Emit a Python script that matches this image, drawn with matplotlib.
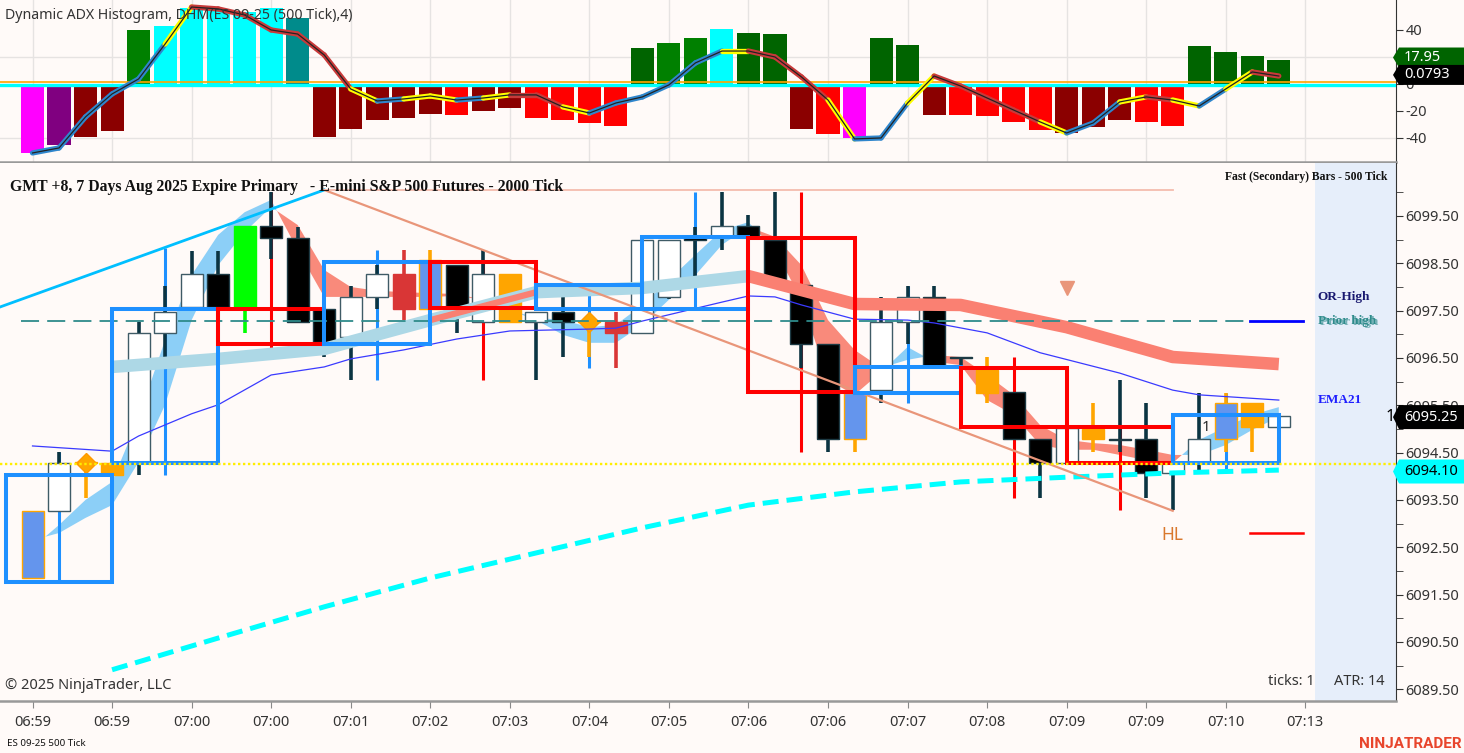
import matplotlib
matplotlib.use("Agg")
import matplotlib.pyplot as plt
import matplotlib.transforms as mtransforms
from matplotlib.patches import Rectangle, Polygon
import numpy as np

plt.rcParams["font.family"] = ["Noto Sans", "DejaVu Sans"]

# ---------------- ADX histogram panel (500 tick) ----------------
hist_vals = [-51, -45, -39, -35, 40, 43, 56, 55, 53, 56, 49, -39, -33, -27, -25, -22,
             -23, -20, -18, -25, -27, -29, -31, 27, 30, 34, 41, 38, 37, -33, -37, -40,
             34, 29, -23, -23, -24, -28, -34, -36, -32, -27, -28, -31, 28, 24, 21, 17.95]
hist_codes = ["M", "P", "DR", "DR", "G", "C", "C", "C", "C", "C", "T", "DR", "DR", "DR", "DR", "DR",
              "R", "DR", "DR", "R", "R", "R", "R", "DG", "G", "G", "C", "DG", "DG", "DR", "R", "M",
              "DG", "DG", "DR", "R", "R", "R", "R", "DR", "DR", "DR", "R", "R", "DG", "DG", "DG", "DG"]
adx_line = [-51.1, -47.4, -24.4, -7.4, 3.7, 29.6, 57.0, 55.6, 51.1, 40.0, 37.0, 21.5, -3.7, -12.6,
            -11.1, -8.9, -11.9, -10.4, -8.1, -8.1, -17.0, -21.5, -14.1, -9.6, -0.7, 15.6, 24.4,
            24.4, 20.0, 5.2, -11.9, -40.7, -40.0, -14.1, 5.9, -1.5, -10.4, -19.3, -28.1, -36.3,
            -28.9, -13.3, -9.6, -11.9, -16.3, -3.7, 8.9, 5.9]
adx_seg = "BBBBBYRRRRRRYBYYBYRRYBBBBBYRRRYBBYRRRRYBBYRYBYR"
hist_ticks = [40, 20, 0, -20, -40]
hist_tick_labels = ["40", "", "0", "-20", "-40"]

# ---------------- main price panel (500 tick candles) ----------------
c_open = [6091.85, 6093.27, 6094.28, 6094.28, 6094.28, 6097.03, 6097.58, 6098.27, 6097.58, 6099.29,
          6099.04, 6097.54, 6096.94, 6097.79, 6098.27, 6097.54, 6098.46, 6097.26, 6098.27, 6097.26,
          6097.47, 6097.26, 6097.26, 6097.03, 6097.79, 6099.06, 6099.06, 6099.29, 6098.99, 6098.04,
          6096.80, 6094.79, 6095.82, 6097.26, 6097.79, 6096.52, 6096.25, 6095.78, 6094.79, 6094.28,
          6095.00, 6094.79, 6094.79, 6094.07, 6094.30, 6094.79, 6095.55, 6095.04]
c_high = [6093.27, 6094.51, 6094.28, 6094.28, 6097.26, 6098.02, 6098.76, 6098.76, 6099.29, 6100.01,
          6099.27, 6097.54, 6098.02, 6098.46, 6098.78, 6098.78, 6098.46, 6098.78, 6098.27, 6097.47,
          6097.79, 6097.26, 6097.47, 6098.99, 6098.99, 6099.27, 6100.01, 6099.52, 6100.01, 6098.04,
          6096.80, 6095.76, 6097.79, 6098.02, 6098.02, 6096.52, 6096.52, 6095.78, 6094.79, 6095.55,
          6095.55, 6096.03, 6095.55, 6094.28, 6095.76, 6095.76, 6095.55, 6095.27]
c_low = [6091.85, 6093.27, 6093.54, 6093.54, 6094.03, 6096.52, 6097.58, 6097.58, 6097.03, 6098.60,
         6097.26, 6096.52, 6096.03, 6097.54, 6097.30, 6097.54, 6097.03, 6097.26, 6097.26, 6096.03,
         6096.52, 6096.52, 6096.29, 6097.03, 6097.75, 6098.21, 6098.78, 6099.06, 6098.13, 6096.29,
         6094.51, 6094.51, 6095.55, 6096.80, 6096.31, 6095.55, 6095.55, 6094.79, 6093.54, 6094.28,
         6094.51, 6094.51, 6093.54, 6093.29, 6094.07, 6094.51, 6094.51, 6095.04]
c_close = [6093.27, 6094.28, 6094.28, 6094.03, 6097.03, 6097.47, 6098.27, 6097.58, 6099.29, 6099.04,
           6097.26, 6096.84, 6097.79, 6098.27, 6097.54, 6098.57, 6097.58, 6098.27, 6097.26, 6097.47,
           6097.26, 6097.26, 6097.03, 6098.99, 6098.99, 6098.99, 6099.29, 6099.06, 6098.13, 6096.80,
           6094.79, 6095.76, 6097.26, 6097.79, 6096.31, 6096.50, 6095.76, 6094.79, 6094.28, 6095.02,
           6094.79, 6094.77, 6094.07, 6094.28, 6094.79, 6095.55, 6095.04, 6095.27]
c_style = ["cf", "w", "od", "o", "w", "w", "w", "k", "lime", "k", "k", "k", "w", "w", "r", "cf",
           "k", "w", "o", "w", "k", "od", "r", "w", "w", "k", "w", "k", "k", "k", "k", "cf",
           "w", "w", "k", "k", "o", "k", "k", "w", "o", "k", "k", "w", "w", "cf", "o", "w"]

# 2000 tick bars drawn as boxes (each spans 4 slots)
box_open = [6091.77, 6094.28, 6097.54, 6096.80, 6098.53, 6097.54, 6097.54, 6099.04, 6095.76,
            6096.29, 6095.04, 6094.28]
box_close = [6094.03, 6097.54, 6096.80, 6098.53, 6097.56, 6098.04, 6099.06, 6095.78, 6096.31,
             6095.04, 6094.28, 6095.30]
box_high = [6094.51, 6098.82, 6100.01, 6098.78, 6098.53, 6098.04, 6100.01, 6100.01, 6098.02,
            6096.52, 6095.04, 6095.76]
box_low = [6091.77, 6094.03, 6096.71, 6096.03, 6096.03, 6096.29, 6097.54, 6094.51, 6095.55,
           6093.54, 6093.29, 6094.09]

# ribbon (fast / slow) cloud
cloud_fast = [6092.49, 6092.97, 6093.50, 6093.88, 6095.23, 6096.88, 6098.25, 6099.10, 6099.58,
              6099.84, 6098.78, 6097.79, 6097.79, 6097.79, 6097.79, 6097.79, 6097.81, 6097.73,
              6097.51, 6097.35, 6097.30, 6097.15, 6097.20, 6097.62, 6098.15, 6098.68, 6099.20,
              6099.37, 6098.78, 6097.73, 6096.03, 6095.72, 6096.20, 6096.73, 6096.42, 6096.35,
              6095.61, 6095.30, 6094.66, 6094.56, 6094.56, 6094.45, 6094.34, 6094.28, 6094.77,
              6095.04, 6095.30, 6095.46]
cloud_slow = [6092.65, 6092.80, 6093.12, 6093.39, 6094.30, 6095.51, 6097.30, 6098.46, 6099.16,
              6099.69, 6099.31, 6098.36, 6098.00, 6097.92, 6097.89, 6097.87, 6097.85, 6097.73,
              6097.51, 6097.30, 6096.99, 6096.82, 6096.82, 6097.20, 6097.73, 6098.25, 6098.89,
              6099.27, 6099.06, 6098.46, 6097.30, 6096.67, 6096.29, 6096.46, 6096.56, 6096.52,
              6096.14, 6095.72, 6095.08, 6094.77, 6094.70, 6094.66, 6094.56, 6094.45, 6094.45,
              6094.66, 6094.98, 6095.25]

# thick trend band through the 2000 tick bars
band_x = [3, 7, 11, 15, 19, 23, 27, 31, 35, 39, 43, 47]
band_vals = [6096.31, 6096.48, 6096.69, 6097.30, 6097.89, 6097.98, 6098.23, 6097.64, 6097.62,
             6097.15, 6096.52, 6096.37]
band_seg = ["up", "up", "up", "up", "up", "up", "dn", "dn", "dn", "dn", "dn"]
overlay_x = [15, 19]
overlay_vals = [6097.30, 6097.89]

ema_x = [0, 3, 4, 6, 7, 9, 11, 12, 14, 16, 18, 21, 22, 23, 26, 27, 28, 29, 31, 33, 34, 36, 38,
         41, 43, 44, 47]
ema_vals = [6094.64, 6094.53, 6094.85, 6095.32, 6095.51, 6096.14, 6096.31, 6096.48, 6096.67,
            6096.90, 6097.07, 6097.11, 6097.13, 6097.28, 6097.68, 6097.81, 6097.79, 6097.62,
            6097.32, 6097.30, 6097.24, 6097.03, 6096.61, 6096.18, 6095.82, 6095.72, 6095.61]

vwap_x = [3, 7, 11, 15, 19, 23, 27, 31, 35, 39, 43, 47]
vwap_vals = [6089.91, 6090.58, 6091.24, 6091.85, 6092.38, 6092.91, 6093.39, 6093.67, 6093.88,
             6093.98, 6094.07, 6094.13]

sky_x = [-2, 11]
sky_vals = [6097.42, 6100.05]
trend_x = [11, 43]
trend_vals = [6100.05, 6093.27]
prior_high = 6097.28
or_low = 6092.80
yellow_level = 6094.25
last_price = 6095.25
vwap_last = 6094.10

time_slots = list(range(0, 49, 3))
time_labels = ["06:59", "06:59", "07:00", "07:00", "07:01", "07:02", "07:03", "07:04", "07:05",
               "07:06", "07:06", "07:07", "07:08", "07:09", "07:09", "07:10", "07:13"]

HIST_COLORS = {"M": "#ff00ff", "P": "#800080", "DR": "#8b0000", "G": "#008000", "C": "#00ffff",
               "T": "#008b8b", "R": "#ff0000", "DG": "#006400"}
SEG_COLORS = {"B": "#2f86cc", "Y": "#ffff00", "R": "#c83a3a"}
BODY = {"w": "white", "k": "black", "cf": "#6495ed", "o": "#ffa500", "od": "#ffa500",
        "lime": "#00ff00", "r": "#d93636"}
EDGE = {"w": "#3f5b66", "k": "#1d3a44", "cf": "#ffa500", "o": "#ffa500", "od": "#ffa500",
        "lime": "#00ff00", "r": "#d93636"}
WICK = {"w": "#0b3442", "k": "#0b3442", "cf": "#ffa500", "o": "#ffa500", "od": "#ffa500",
        "lime": "#00ff00", "r": "#d93636"}
BG = "#fffaf8"
W, H = 1464, 753

fig = plt.figure(figsize=(14.64, 7.53), dpi=100)
fig.patch.set_facecolor(BG)
ax_h = fig.add_axes([0, 1 - 162 / H, 1396 / W, 162 / H])
ax = fig.add_axes([0, 1 - 701 / H, 1396 / W, 538 / H])
for a in (ax_h, ax):
    a.set_facecolor(BG)
    a.set_xlim(-1.226, 51.42)
    a.spines["top"].set_visible(False)
    a.spines["left"].set_visible(False)
    a.spines["right"].set_color("#333333")
    a.spines["bottom"].set_color("#999999")
    a.spines["bottom"].set_linewidth(1.8)
    a.yaxis.tick_right()
    a.tick_params(axis="y", direction="out", length=5, color="#333333", labelsize=10.5,
                  labelcolor="#333333", pad=2)


def price_tag(a, y, text, fc, tc, h_px=22):
    # label box on the right price scale, running to the figure edge
    y0, y1 = a.get_ylim()
    dpp = (y1 - y0) / (a.get_position().height * H)
    tr = mtransforms.blended_transform_factory(a.transAxes, a.transData)
    x0 = 1.0 + 3 / 1396
    x1 = W / 1396
    half = h_px / 2 * dpp
    a.add_patch(Polygon([(x0 - 6 / 1396, y), (x0, y + half), (x1, y + half), (x1, y - half),
                         (x0, y - half)], closed=True, transform=tr, fc=fc, ec="none",
                        clip_on=False, zorder=10))
    a.text(x0 + 5 / 1396, y, text, transform=tr, ha="left", va="center", fontsize=10.5,
           color=tc, clip_on=False, zorder=11)


# ---- histogram panel ----
x = np.arange(len(hist_vals))
ax_h.set_ylim(-57.8, 62.2)
for t in time_slots:
    ax_h.axvline(t, color="#e6e3e2", lw=1, zorder=0)
for g in (20, -40):
    ax_h.axhline(g, color="#e6e3e2", lw=1, zorder=0)
ax_h.bar(x, hist_vals, width=0.87, color=[HIST_COLORS[c] for c in hist_codes], zorder=2)
ax_h.axhline(1.3, color="#ffa500", lw=1.2, zorder=3)
ax_h.axhline(-0.7, color="#00ffff", lw=2.4, zorder=3)
for i, c in enumerate(adx_seg):
    ax_h.plot(x[i:i + 2], adx_line[i:i + 2], color=SEG_COLORS[c], lw=3.8,
              solid_capstyle="round", zorder=4)
ax_h.plot(x, adx_line, color="#222222", lw=0.9, zorder=5)
ax_h.set_yticks(hist_ticks)
ax_h.set_yticklabels(hist_tick_labels)
ax_h.tick_params(axis="x", length=0, labelbottom=False)
ax_h.text(0.0035, 0.905, "Dynamic ADX Histogram, DHM(ES 09-25 (500 Tick),4)",
          transform=ax_h.transAxes, fontsize=10.2, color="#333333", va="center", zorder=10)
price_tag(ax_h, 19.6, "17.95", "#006400", "white", h_px=20)
price_tag(ax_h, 6.7, "0.0793", "black", "white", h_px=20)

# ---- main panel ----
ax.set_ylim(6089.25, 6100.62)
ax.axvspan(48.36, 51.42, color="#e6eefa", zorder=0, lw=0)

xs = np.arange(len(c_open))
f = np.array(cloud_fast)
s = np.array(cloud_slow)
ax.fill_between(xs, f, s, where=f >= s, interpolate=True, color="#8ccff7", lw=0, zorder=1)
ax.fill_between(xs, f, s, where=f < s, interpolate=True, color="#f98a7b", lw=0, zorder=1)

# 2000 tick wicks (behind the 500 tick candles)
for k in range(len(box_open)):
    col = "#1e90ff" if box_close[k] >= box_open[k] else "#ff0000"
    ax.vlines(4 * k + 1, box_low[k], box_high[k], color=col, lw=2.2, zorder=2)

# candles
o = np.array(c_open)
c = np.array(c_close)
ax.vlines(xs, c_low, c_high, color=[WICK[st] for st in c_style], lw=2.6, zorder=3)
bottoms = np.minimum(o, c)
heights = np.maximum(np.abs(c - o), 0.02)
ax.bar(xs, heights, bottom=bottoms, width=0.83, color=[BODY[st] for st in c_style],
       edgecolor=[EDGE[st] for st in c_style], linewidth=1.0, zorder=4)
for i, st in enumerate(c_style):
    if st == "od":
        ax.plot(xs[i], c_close[i], marker="D", ms=10, color="#ffa500", mec="#ff9900", zorder=4.2)

# thick band, grouped by colour
band_colors = {"up": "#add8e6", "dn": "#fa8072"}
start = 0
for i in range(1, len(band_seg) + 1):
    if i == len(band_seg) or band_seg[i] != band_seg[start]:
        ax.plot(band_x[start:i + 1], band_vals[start:i + 1], color=band_colors[band_seg[start]],
                lw=9, solid_capstyle="butt", solid_joinstyle="round", zorder=4.5)
        start = i
ax.plot(overlay_x, overlay_vals, color="#fa8072", lw=4.5, solid_capstyle="butt", zorder=4.55)

ax.plot(ema_x, ema_vals, color="#3a3aff", lw=0.9, zorder=4.6)
ax.plot(vwap_x, vwap_vals, color="#00ffff", lw=3.6, dashes=(3.2, 1.6), zorder=4.6)
ax.plot(sky_x, sky_vals, color="#00bfff", lw=2.0, zorder=4.6)
ax.plot(trend_x, trend_vals, color="#e9967a", lw=1.6, zorder=4.7)
ax.plot(trend_x, [trend_vals[0], trend_vals[0]], color="#f5bcae", lw=1.3, zorder=4.7)

# 2000 tick boxes
for k in range(len(box_open)):
    col = "#1e90ff" if box_close[k] >= box_open[k] else "#ff0000"
    lo = min(box_open[k], box_close[k])
    hi = max(box_open[k], box_close[k])
    ax.add_patch(Rectangle((4 * k - 1, lo), 4, hi - lo, fill=False, edgecolor=col, lw=2.9,
                           zorder=5))

ax.axhline(yellow_level, color="#ffee00", lw=1.7, dashes=(1, 1.1), zorder=7)
ax.plot([-0.45, 45.9], [prior_high, prior_high], color="#2e8b8b", lw=1.3, dashes=(10, 4.5),
        zorder=4.8)
ax.plot([45.9, 47.9], [prior_high, prior_high], color="#0000ff", lw=2.0, zorder=4.8)
ax.plot([45.9, 47.9], [or_low, or_low], color="#ff0000", lw=1.8, zorder=4.8)
ax.plot(39, 6097.98, marker="v", ms=10, color="#e9967a", zorder=6)
ax.text(43, 6092.76, "HL", color="#d9782d", fontsize=12.5, ha="center", va="center", zorder=6)
ax.text(44.25, 6095.04, "1", color="#222222", fontsize=11, ha="center", va="center", zorder=6)

# axes, ticks
ax.set_yticks(np.arange(6089.5, 6100.0, 1.0))
ax.set_yticks(np.arange(6090.0, 6101.0, 1.0), minor=True)
ax.set_yticklabels([f"{v:.2f}" for v in np.arange(6089.5, 6100.0, 1.0)])
ax.tick_params(axis="y", which="minor", direction="out", length=5, color="#333333")
ax.set_xticks(time_slots)
ax.set_xticklabels(time_labels)
ax.tick_params(axis="x", direction="out", length=5, color="#888888", labelsize=10.5,
               labelcolor="#333333", pad=5)

tr = mtransforms.blended_transform_factory(ax.transAxes, ax.transData)
ax.text(0.9995, last_price, "1", transform=tr, ha="right", va="center", fontsize=12,
        fontweight="bold", color="black", clip_on=False, zorder=9)
price_tag(ax, last_price, "6095.25", "black", "white", h_px=24)
price_tag(ax, vwap_last, "6094.10", "#00ffff", "black", h_px=24)

serif = ["Liberation Serif", "DejaVu Serif"]
ax.text(10 / 1396, 0.955, "GMT +8, 7 Days Aug 2025 Expire Primary   - E-mini S&P 500 Futures - 2000 Tick",
        transform=ax.transAxes, family=serif, fontweight="bold", fontsize=11.3, color="#111111",
        va="center", zorder=9)
ax.text(0.9936, 0.974, "Fast (Secondary) Bars - 500 Tick", transform=ax.transAxes, family=serif,
        fontweight="bold", fontsize=8.4, color="#111111", ha="right", va="center", zorder=9)
ax.text(0.944, 0.751, "OR-High", transform=ax.transAxes, family=serif, fontweight="bold",
        fontsize=9.5, color="#191970", va="center", zorder=9)
ax.text(0.944, 0.706, "Prior high", transform=ax.transAxes, family=serif, fontweight="bold",
        fontsize=9.5, color="#2e8b8b", va="center", zorder=9)
ax.text(0.9455, 0.704, "Prior high", transform=ax.transAxes, family=serif, fontweight="bold",
        fontsize=9.5, color="#2e8b8b", va="center", alpha=0.6, zorder=9)
ax.text(0.944, 0.5595, "EMA21", transform=ax.transAxes, family=serif, fontweight="bold",
        fontsize=9.5, color="#1e1eff", va="center", zorder=9)
ax.text(5 / 1396, 0.028, "© 2025 NinjaTrader, LLC", transform=ax.transAxes, fontsize=10.5,
        color="#333333", va="center", zorder=9)
ax.text(1268 / 1396, 0.037, "ticks: 1", transform=ax.transAxes, fontsize=10.5,
        color="#333333", va="center", zorder=9)
ax.text(1334 / 1396, 0.037, "ATR: 14", transform=ax.transAxes, fontsize=10.5,
        color="#333333", va="center", zorder=9)

fig.text(7 / W, 1 - 744 / H, "ES 09-25 500 Tick", fontsize=7, color="#111111", va="center")
fig.text(1462 / W, 1 - 744 / H, "NINJATRADER", fontsize=11, fontweight="bold",
         family=["Roboto", "DejaVu Sans"], color="#e8452c", ha="right", va="center")

fig.savefig("out.png", dpi=100, facecolor=BG)
plt.close(fig)
